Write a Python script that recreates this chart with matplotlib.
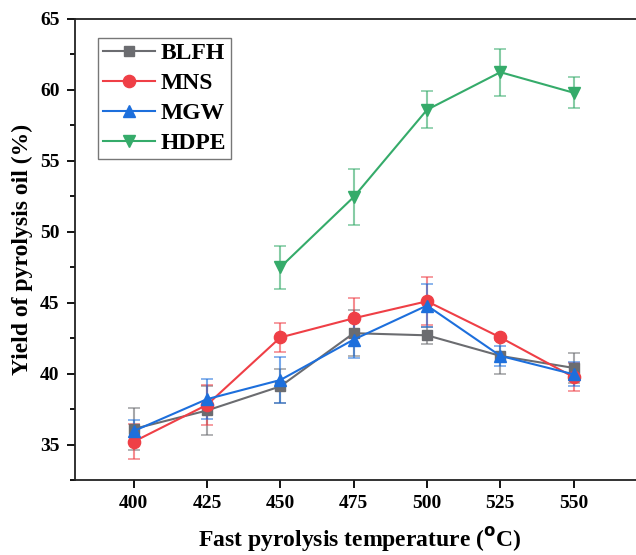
import matplotlib
matplotlib.use("Agg")
import matplotlib.pyplot as plt
from matplotlib.ticker import MultipleLocator

temps = [400, 425, 450, 475, 500, 525, 550]
hdpe_temps = [450, 475, 500, 525, 550]

blfh = [36.1, 37.4, 39.1, 42.85, 42.7, 41.25, 40.4]
blfh_err = [1.5, 1.75, 1.2, 1.6, 0.6, 1.3, 1.05]
mns = [35.2, 37.8, 42.55, 43.9, 45.1, 42.55, 39.75]
mns_err = [1.25, 1.4, 1.0, 1.4, 1.7, 0.2, 1.0]
mgw = [35.95, 38.2, 39.55, 42.4, 44.8, 41.25, 39.95]
mgw_err = [0.8, 1.4, 1.6, 1.3, 1.5, 0.7, 0.85]
hdpe = [47.5, 52.45, 58.6, 61.25, 59.8]
hdpe_err = [1.5, 1.95, 1.3, 1.65, 1.1]

labels = ["BLFH", "MNS", "MGW", "HDPE"]
colors = ["#6b6c70", "#ef3f46", "#1d6fdc", "#35ab6a"]
markers = ["s", "o", "^", "v"]
msizes = [7.8, 8.8, 8.8, 8.8]

plt.rcParams['font.family'] = ['Liberation Serif', 'DejaVu Serif']
plt.rcParams['font.weight'] = 'bold'

fig = plt.figure(figsize=(6.36, 5.55), dpi=100)
ax = fig.add_axes([75/636, 75/555, 586.7/636, 461/555])

series = [(temps, blfh, blfh_err), (temps, mns, mns_err), (temps, mgw, mgw_err), (hdpe_temps, hdpe, hdpe_err)]
handles = []
for (x, y, e), lab, c, m, ms in zip(series, labels, colors, markers, msizes):
    ax.errorbar(x, y, yerr=e, fmt='none', ecolor=c, elinewidth=1.5, capsize=4, capthick=1.2, alpha=0.6, zorder=2)
    h, = ax.plot(x, y, color=c, marker=m, markersize=ms, linewidth=1.5, label=lab, zorder=3)
    handles.append(h)

ax.set_xlim(380, 580)
ax.set_ylim(32.5, 65)
ax.set_xticks(temps)
ax.yaxis.set_major_locator(MultipleLocator(5))
ax.yaxis.set_minor_locator(MultipleLocator(2.5))
ax.tick_params(axis='both', which='major', direction='out', length=6, width=1.3, labelsize=14, pad=5)
ax.tick_params(axis='y', which='minor', direction='out', length=3.5, width=1.3)
for lab in ax.get_xticklabels() + ax.get_yticklabels():
    lab.set_fontweight('bold')
for s in ax.spines.values():
    s.set_linewidth(1.3)
    s.set_color('#222222')
ax.spines['right'].set_visible(False)

ax.set_xlabel("Fast pyrolysis temperature ($\\mathbf{^{o}}$C)", fontsize=17, fontweight='bold')
ax.xaxis.set_label_coords((360 - 75) / 586.7, -(547 - 480) / 461)
ax.xaxis.label.set_va('baseline')
ax.set_ylabel("Yield of pyrolysis oil (%)", fontsize=17, fontweight='bold', labelpad=5)

leg = fig.legend(handles=handles, loc='upper left', bbox_to_anchor=(98/636, 1 - 38/555),
                 fontsize=17, frameon=True, fancybox=False, edgecolor='#555555',
                 handlelength=2.2, labelspacing=0.36, borderpad=0.2, handletextpad=0.25,
                 borderaxespad=0)
leg.get_frame().set_linewidth(1.0)
for t in leg.get_texts():
    t.set_fontweight('bold')

fig.savefig("out.png", dpi=100)
